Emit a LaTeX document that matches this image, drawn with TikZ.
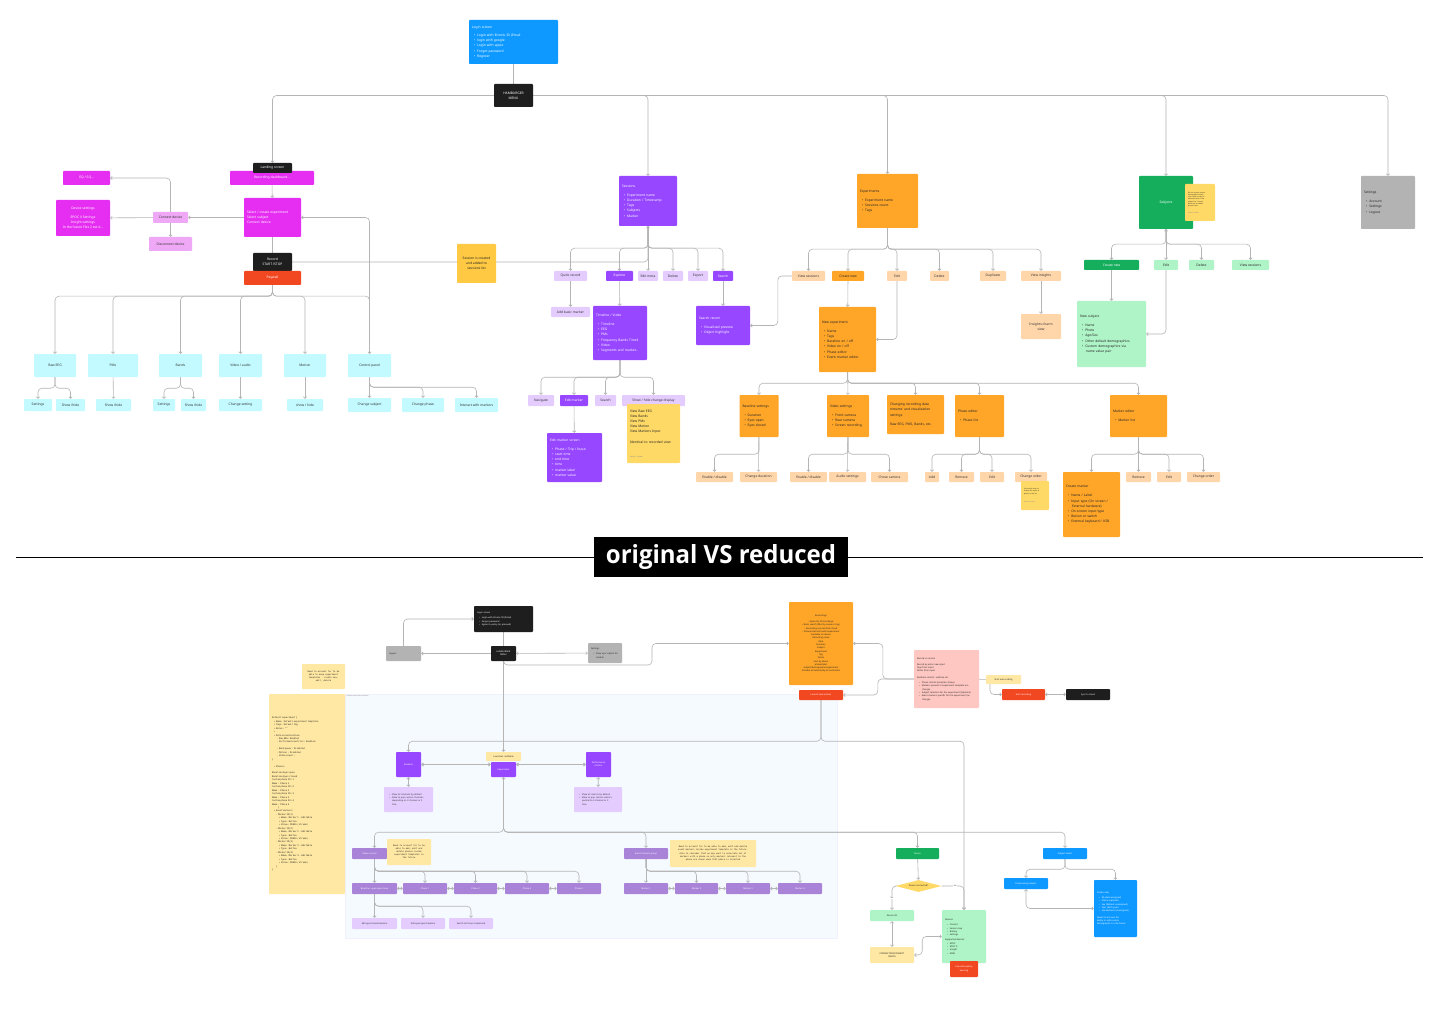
\documentclass[tikz,border=0pt]{standalone}
\usepackage{fontspec}
\usepackage{graphicx}
\setmainfont{Noto Sans}
\setmonofont{DejaVu Sans Mono}
\newfontfamily\titlefont{Open Sans}
\usetikzlibrary{arrows.meta,shapes.geometric}
\pgfdeclarelayer{bg}
\pgfdeclarelayer{wires}
\pgfsetlayers{bg,wires,main}

\definecolor{hamblack}{HTML}{1E1E1E}
\definecolor{loginblue}{HTML}{0D99FF}
\definecolor{dashmag}{HTML}{E62EF2}
\definecolor{dashmaglt}{HTML}{EEA8F5}
\definecolor{payred}{HTML}{F24822}
\definecolor{cyanlt}{HTML}{C2FAFF}
\definecolor{sesspurp}{HTML}{9747FF}
\definecolor{sesspurplt}{HTML}{E4CCFF}
\definecolor{exporange}{HTML}{FFA629}
\definecolor{exporangelt}{HTML}{FFD5AA}
\definecolor{sessyellow}{HTML}{FFC943}
\definecolor{stickyyellow}{HTML}{FFD966}
\definecolor{subjgreen}{HTML}{14AE5C}
\definecolor{subjgreenlt}{HTML}{AFF4C6}
\definecolor{setgray}{HTML}{B3B3B3}
\definecolor{notepale}{HTML}{FFE8A3}
\definecolor{midpurple}{HTML}{A883D8}
\definecolor{bgblue}{HTML}{F5FAFF}
\definecolor{recpink}{HTML}{FFC7C2}
\definecolor{linkgray}{HTML}{B5B5B5}

\tikzset{
  >={Straight Barb[length=1.6pt,width=3.2pt]},
  link/.style={draw=linkgray, line width=0.6pt, rounded corners=4pt},
  box/.style={rounded corners=0.8pt, inner sep=0.5pt, align=center, font=\fontsize{3.3}{5.2}\selectfont},
  lbox/.style={box, align=left, inner xsep=3pt, inner ysep=1pt, text width=#1pt},
  wh/.style 2 args={minimum width=#1pt, minimum height=#2pt},
  ht/.style={minimum height=#1pt},
  fine/.style={font=\fontsize{2.2}{3.3}\selectfont},
  minute/.style={font=\fontsize{1.6}{2.3}\selectfont},
  mono/.style={font=\ttfamily\fontsize{2.1}{3.1}\selectfont},
  code/.style={font=\ttfamily\fontsize{2.2}{3.45}\selectfont},
  lbl/.style={font=\fontsize{2}{2.5}\selectfont, fill=white, inner sep=0.5pt, text=black!70},
  blk/.style={fill=hamblack, text=white},
  blu/.style={fill=loginblue, text=white},
  mag/.style={fill=dashmag, text=white},
  magl/.style={fill=dashmaglt, text=black!80},
  alert/.style={fill=payred, text=white},
  cyn/.style={fill=cyanlt, text=black!80},
  prp/.style={fill=sesspurp, text=white},
  prpl/.style={fill=sesspurplt, text=black!80},
  org/.style={fill=exporange, text=black!85},
  orgl/.style={fill=exporangelt, text=black!80},
  grn/.style={fill=subjgreen, text=white},
  grnl/.style={fill=subjgreenlt, text=black!85},
  gry/.style={fill=setgray, text=black!85},
  yel/.style={fill=sessyellow, text=black!85},
  stk/.style={fill=stickyyellow, text=black!85},
  pale/.style={fill=notepale, text=black!85},
  pnk/.style={fill=recpink, text=black!85},
  mid/.style={fill=midpurple, text=white},
}

\newcommand{\bi}{\hspace*{2pt}\textbullet\hspace{2pt}}
\newcommand{\ind}[1]{\hspace*{#1pt}}

\begin{document}
\begin{tikzpicture}[x=1pt,y=-1pt]
\useasboundingbox (0,0) rectangle (1440,1024);
\begin{pgfonlayer}{bg}
  \fill[white] (0,0) rectangle (1440,1024);
  \filldraw[fill=bgblue, draw=blue!6] (345,694) rectangle (837,938);
\end{pgfonlayer}

% ---------- original ----------
\node[lbox=83, blu, ht=44] (login) at (513.5,42) {\textbf{Login screen}\\[3pt]\bi Login with Emotiv ID (Email\\\bi login with google\\\bi Login with apple\\\bi Forgot password\\\bi Register};
\node[box, blk, wh={39}{23}] (menu) at (513.5,95.5) {HAMBURGER\\MENU};

% recording dashboard
\node[box, mag, wh={84}{14}] (recdash) at (272,178) {Recording dashboard...};
\node[box, blk, wh={39}{10}] (landing) at (272.5,168) {Landing screen};
\node[lbox=51, mag, ht=39] (select) at (272.5,217.5) {\textbf{Select / create experiment}\\Select subject\\Connect device};
\node[box, magl, wh={35}{11}] (connect) at (170.5,217.5) {Connect device};
\node[box, mag, wh={54}{36}] (devset) at (83,218) {\textbf{Device settings}\\[3pt]EPOC X Settings\\Insight settings\\In the future Flex 2 set-ti...};
\node[box, mag, wh={47}{14}] (eqsq) at (86.5,178) {EQ / SQ...};
\node[box, magl, wh={43}{14}] (disconnect) at (170.5,244) {Disconnect device};
\node[box, blk, wh={39}{18}] (record) at (272.5,262) {Record\\START /STOP};
\node[box, alert, wh={57}{14}] (paywall) at (272.5,278) {Paywall};

\node[box, cyn, wh={42}{23}] (raweeg) at (55,365.5) {Raw EEG};
\node[box, cyn, wh={50}{23}] (pms) at (113,365.5) {PMs};
\node[box, cyn, wh={43}{23}] (bands) at (180.5,365.5) {Bands};
\node[box, cyn, wh={43}{23}] (videoaudio) at (240.5,365.5) {Video / audio};
\node[box, cyn, wh={42}{23}] (motion) at (305,365.5) {Motion};
\node[box, cyn, wh={43}{23}] (controlpanel) at (369.5,365.5) {Control panel};
\node[box, cyn, wh={28}{12}] (eegset) at (38,405) {Settings};
\node[box, cyn, wh={29}{12}] (eegshow) at (70.5,405) {Show /hide};
\node[box, cyn, wh={35}{12}] (pmsshow) at (113.5,405) {Show /hide};
\node[box, cyn, wh={22}{12}] (bandset) at (164,405) {Settings};
\node[box, cyn, wh={25}{12}] (bandshow) at (193.5,405) {Show /hide};
\node[box, cyn, wh={43}{12}] (vidchange) at (240.5,405) {Change setting};
\node[box, cyn, wh={36}{12}] (motionshow) at (305,405) {show / hide};
\node[box, cyn, wh={43}{14}] (chsubject) at (369.5,405) {Change subject};
\node[box, cyn, wh={42}{14}] (chphase) at (423,405) {Change phase};
\node[box, cyn, wh={43}{14}] (intmarkers) at (476.5,405) {Interact with markers};

% sessions
\node[lbox=52, prp, ht=50] (sessions) at (648,201) {\textbf{Sessions}\\[4pt]\bi Experiment name\\\bi Duration / Timestamp\\\bi Tags\\\bi Subjects\\\bi Marker};
\node[box, prpl, wh={33}{10}] (quick) at (570.5,276) {Quick record};
\node[box, prp, wh={27}{10}] (explore) at (619.5,276) {Explore};
\node[box, prpl, wh={20}{10}] (editmeta) at (648,276) {Edit meta};
\node[box, prpl, wh={20}{10}] (sessdelete) at (673,276) {Delete};
\node[box, prpl, wh={20}{10}] (export) at (698,276) {Export};
\node[box, prp, wh={20}{10}] (search) at (723,276) {Search};
\node[box, prpl, wh={39}{10}] (addmarker) at (570.5,312) {Add basic marker};
\node[lbox=48, prp, ht=54] (timeline) at (620,333) {\textbf{Timeline / Video}\\[4pt]\bi Timeline\\\bi EEG\\\bi PMs\\\bi Frequency Bands Timeli\\\bi Video\\\bi Segments and marker...};
\node[box, prpl, wh={26}{11}] (navigate) at (541,400.5) {Navigate};
\node[box, prp, wh={28}{11}] (editmarker) at (574,400.5) {Edit marker};
\node[box, prpl, wh={21}{11}] (tlsearch) at (605.5,400.5) {Search};
\node[box, prpl, wh={63}{11}] (showhide) at (653.5,400.5) {Show / hide change display};
\node[lbox=47, stk, ht=59] (viewnote) at (653.5,433.5) {View Raw EEG\\View Bands\\View PMs\\View Motion\\View Markers Input\\[5pt]Identical to recorded view\\[9pt]{\color{black!45}\fontsize{1.8}{2}\selectfont Nelson Labadi}};
\node[lbox=49, prp, ht=49] (editscreen) at (574.5,457.5) {\textbf{Edit marker screen}\\[4pt]\bi Phase / Trip / Input\\\bi start time\\\bi end time\\\bi time\\\bi marker label\\\bi marker value};
\node[lbox=48, prp, ht=39] (searchreturn) at (723,325.5) {\textbf{Search return}\\[4pt]\bi Visualised preview\\\bi Object highlight};
\node[box, yel, wh={39}{39}] (created) at (476.5,263.5) {Session is created\\and added to\\sessions list};

% experiments
\node[lbox=55, org, ht=54] (experiments) at (887.5,201) {\textbf{Experiments}\\[4pt]\bi Experiment name\\\bi Sessions count\\\bi Tags};
\node[box, orgl, wh={33}{10}] (viewsessions) at (808.5,276) {View sessions};
\node[box, org, wh={32}{10}] (createnew) at (848,276) {Create new};
\node[box, orgl, wh={20}{10}] (expedit) at (897,276) {Edit};
\node[box, orgl, wh={19}{10}] (expdelete) at (939.5,276) {Delete};
\node[box, orgl, wh={26}{10}] (duplicate) at (993,276) {Duplicate};
\node[box, orgl, wh={40}{10}] (insights) at (1041,276) {View insights};
\node[lbox=51, org, ht=65] (newexp) at (847.5,339.5) {\textbf{New experiment}\\[4pt]\bi Name\\\bi Tags\\\bi Baseline on / off\\\bi Video on / off\\\bi Phase editor\\\bi Event marker editor};
\node[box, orgl, wh={40}{25}] (inscharm) at (1041,326.5) {Insights charm\\view};
\node[lbox=33, org, ht=42] (baseline) at (759,416) {\textbf{Baseline settings}\\[4pt]\bi Duration\\\bi Eyes open\\\bi Eyes closed};
\node[lbox=36, org, ht=42] (videoset) at (848,416) {\textbf{Video settings}\\[4pt]\bi Front camera\\\bi Rear camera\\\bi Screen recording};
\node[lbox=51, org, ht=39] (streams) at (915.5,414.5) {{\bfseries Changing recording data\\streams' and visualisation\\settings}\\[4pt]Raw EEG, PMS, Bands, etc.};
\node[lbox=43, org, ht=42] (phaseeditor) at (979.5,416) {\textbf{Phase editor}\\[4pt]\bi Phase list};
\node[lbox=51, org, ht=42] (markereditor) at (1138.5,416) {\textbf{Marker editor}\\[4pt]\bi Marker list};
\node[box, orgl, wh={37}{10}] (blenable) at (714.5,477) {Enable / disable};
\node[box, orgl, wh={37}{10}] (blduration) at (758.5,477) {Change duration};
\node[box, orgl, wh={37}{10}] (videnable) at (808.5,477) {Enable / disable};
\node[box, orgl, wh={37}{10}] (vidaudio) at (847.5,477) {Audio settings};
\node[box, orgl, wh={37}{10}] (vidcamera) at (889.5,477) {Chose camera};
\node[box, orgl, wh={14}{10}] (phadd) at (932,477) {\textbf{Add}};
\node[box, orgl, wh={25}{10}] (phremove) at (961.5,477) {\textbf{Remove}};
\node[box, orgl, wh={24}{10}] (phedit) at (992,477) {\textbf{Edit}};
\node[box, orgl, wh={32}{10}] (phorder) at (1031,477) {\textbf{Change order}};
\node[lbox=22, stk, ht=29, minute] (ordernote) at (1035,495.5) {Use drag \& drop to\\change the order of\\phases in the list\\[6pt]{\color{black!45}Nelson Labadi}};
\node[lbox=51, org, ht=65] (createmarker) at (1091.5,504.5) {\textbf{Create marker}\\[4pt]\bi Name / Label\\\bi Input type (On screen /\\\ind{6}External hardware)\\\bi On screen input type\\\bi Button or switch\\\bi External keyboard / USB};
\node[box, orgl, wh={25}{10}] (mkremove) at (1138.5,477) {\textbf{Remove}};
\node[box, orgl, wh={24}{10}] (mkedit) at (1169,477) {\textbf{Edit}};
\node[box, orgl, wh={33}{10}] (mkorder) at (1203.5,477) {\textbf{Change order}};

% subjects and settings
\node[box, grn, wh={54}{53}] (subjects) at (1166,202.5) {Subjects};
\node[lbox=24, stk, ht=37, minute] (subjnote) at (1200,202.5) {Do not require subject\\demographics every\\time. Allow to skip or\\add them later in the\\subject list. Custom\\fields can be added\\by each user.\\[4pt]{\color{black!45}Nelson Labadi}};
\node[box, grn, wh={55}{10}] (subjcreate) at (1111.5,265) {Create new};
\node[box, grnl, wh={24}{10}] (subjedit) at (1166,265) {\textbf{Edit}};
\node[box, grnl, wh={25}{10}] (subjdelete) at (1201.5,265) {\textbf{Delete}};
\node[box, grnl, wh={37}{10}] (subjsessions) at (1250.5,265) {\textbf{View sessions}};
\node[lbox=63, grnl, ht=66] (newsubject) at (1111.5,334) {\textbf{New subject}\\[4pt]\bi Name\\\bi Photo\\\bi Age/Sex\\\bi Other default demographics\\\bi Custom demographics via\\\ind{6}name value pair};
\node[lbox=48, gry, ht=53] (settings) at (1388,202.5) {\textbf{Settings}\\[4pt]\bi Account\\\bi Settings\\\bi Logout};

% divider
\draw[black, line width=1pt] (16,557) -- (1423,557);
\node[fill=black, text=white, minimum width=254pt, minimum height=40pt, inner sep=0pt] (divider) at (721,557) {\scalebox{0.96}[1]{\titlefont\bfseries\fontsize{25}{28}\selectfont original VS reduced}};

% ---------- reduced ----------
\node[lbox=53, blk, ht=26, fine] (blogin) at (503.5,619) {\textbf{Login screen}\\[2pt]\bi Login with Emotiv ID (Email)\\\bi Forgot password\\\bi Agree to policy (to proceed)};
\node[box, blk, wh={25}{15}, fine] (bmenu) at (503.5,653.5) {HAMBURGER\\MENU};
\node[lbox=29, gry, ht=15, fine] (logout) at (403.5,653.5) {Logout};
\node[lbox=28, gry, ht=20, fine] (bsettings) at (605,653) {\textbf{Settings}\\[2pt]\bi Show sync option for\\\ind{5}module};
\node[box, org, wh={64}{83}, fine] (recordings) at (821,643.5) {Recordings\\[3pt]\textbullet\ Open list of recordings\\\textbullet\ Basic search (filter by name or tag)\\\textbullet\ Recordings synced from cloud\\\textbullet\ Show all sessions with experiment\\Available on device\\Recording name\\Date\\Duration\\Subject\\Experiment\\Tag\\Notes\\Sort by above\\phased plot\\subject/demographic/experiment\\Includes all selected by all controllers};
\node[box, alert, wh={44}{10}, fine] (newsession) at (821,695) {Launch new session};
\node[lbox=59, pnk, ht=58, fine] (recnormal) at (946.5,679) {\textbf{Record in normal}\\[3pt]Record by enter new input\\Tags from input\\Notes from input\\[3pt]Realtime control: realtime etc.\\[2pt]\bi Phase control (template shows)\\\bi Markers present in experiment template (no\\\ind{5}change)\\\bi Subject selection for the experiment (Optional)\\\bi Event markers specific for the experiment (no\\\ind{5}change)};
\node[box, pale, wh={35}{9}, fine] (autocode) at (1003.5,679.5) {Start auto-coding};
\node[box, alert, wh={43}{11}, fine] (startrec) at (1023.5,694.5) {Start recording};
\node[box, blk, wh={44}{11}, fine] (cloudsync) at (1088,694.5) {Sync to cloud};

\node[box, pale, wh={43}{25}, mono] (templatenote) at (323.5,676.5) {Need to account for to be\\able to keep experiment\\templates - create new,\\edit, delete};
\node[lbox=70, pale, ht=200, code] (defaults) at (307,794) {Default experiment \{\\
\ind{2}\textbullet\ Name: Default experiment template\\
\ind{2}\textbullet\ Tags: Default tag\\
\ind{2}\textbullet\ Notes: ""\\
\ind{2}\textbullet\\
\ind{2}\textbullet\ Data visualisation:\\
\ind{5}- Raw EEG: Enabled\\
\ind{5}- Performance metrics: Enabled\\[3.45pt]
\ind{5}- Band power: Disabled\\
\ind{5}- Motion : Disabled\\
\ind{5}- Video input :\\
\}\\[3.45pt]
\ind{2}\textbullet\ Phases:\\[3.45pt]
Baseline Eyes open\\
Baseline Eyes closed\\
Custom phase ID: 1\\
Name : Phase 1\\
Custom phase ID: 2\\
Name : Phase 2\\
Custom phase ID: 3\\
Name : Phase 3\\
Custom phase ID: 4\\
Name : Phase 4\\
\ind{6}\}\\
\ind{2}\textbullet\ Event markers\\
\ind{4}- Marker ID(1)\\
\ind{7}\textbullet\ Name: Marker 1 - Editable\\
\ind{7}\textbullet\ Type: Button\\
\ind{7}\textbullet\ Value: PRESS (stream)\\
\ind{4}- Marker ID(2)\\
\ind{7}\textbullet\ Name: Marker 2 - Editable\\
\ind{7}\textbullet\ Type: Button\\
\ind{7}\textbullet\ Value: PRESS (stream)\\
\ind{4}- Marker ID(3)\\
\ind{7}\textbullet\ Name: Marker 3 - Editable\\
\ind{7}\textbullet\ Type: Button\\
\ind{4}- Marker ID(4)\\
\ind{7}\textbullet\ Name: Marker 4 - Editable\\
\ind{7}\textbullet\ Type: Button\\
\ind{7}\textbullet\ Value: PRESS (stream)\\
\ind{4}\}\\
\}};
\node[anchor=north west, inner sep=0.5pt, font=\fontsize{1.6}{2}\selectfont, text=black!50] (regionlabel) at (346,695) {Default experiment template};

\node[box, prp, wh={25}{25}, fine] (blbase) at (408.5,764.5) {Baseline};
\node[box, pale, wh={35}{9}, fine] (launch) at (503.5,756.5) {Launches / editable};
\node[box, prp, wh={25}{15}, fine] (bexp) at (503.5,769.5) {Experiment};
\node[box, prp, wh={25}{25}, fine] (blpm) at (598.5,764.5) {Performance\\metrics};
\node[lbox=43, prpl, ht=25, fine] (basenote) at (408.5,799.5) {\bi Show all channels by default\\\bi Allow to pop custom channels\\\ind{5}depending on X channel or X\\\ind{5}time};
\node[lbox=42, prpl, ht=25, fine] (pmnote) at (598,799.5) {\bi Show all metrics by default\\\bi Allow to pop custom metrics\\\ind{5}parallel to X-channel or X\\\ind{5}time};
\node[box, mid, wh={35}{11}, fine] (phasectrl) at (369.5,853.5) {Phase control};
\node[box, pale, wh={44}{26}, mono] (phasenote) at (409,852) {Need to account for to be\\able to add, edit and\\delete phases inside\\experiment templates in\\the future};
\node[box, mid, wh={44}{11}, fine] (markergroup) at (646,853.5) {Event markers group};
\node[box, pale, wh={86}{27}, mono] (markernote) at (713,853.5) {Need to account for to be able to add, edit and delete\\event markers inside experiment template in the future.\\Also to consider that we may want to associate set of\\markers with a phase so only markers relevant to the\\phase are shown when that phase is selected};
\node[box, mid, wh={45}{11}, fine] (phase0) at (374.5,888.5) {Baseline - eyes open/close};
\node[box, mid, wh={44}{11}, fine] (phase1) at (425,888.5) {Phase 1};
\node[box, mid, wh={43}{11}, fine] (phase2) at (475.5,888.5) {Phase 2};
\node[box, mid, wh={44}{11}, fine] (phase3) at (527,888.5) {Phase 3};
\node[box, mid, wh={44}{11}, fine] (phasen) at (579,888.5) {Phase n};
\node[box, mid, wh={44}{11}, fine] (marker1) at (646,888.5) {Marker 1};
\node[box, mid, wh={43}{11}, fine] (marker2) at (696.5,888.5) {Marker 2};
\node[box, mid, wh={44}{11}, fine] (marker3) at (748,888.5) {Marker 3};
\node[box, mid, wh={44}{11}, fine] (marker4) at (800,888.5) {Marker 4};
\node[box, prpl, wh={45}{11}, fine] (eyesclosed) at (374.5,923.5) {Edit eyes closed baseline};
\node[box, prpl, wh={44}{11}, fine] (eyesopen) at (423,923.5) {Edit eyes open baseline};
\node[box, prpl, wh={44}{11}, fine] (advanced) at (471,923.5) {Switch to frame 4 advanced};

\node[box, grn, wh={43}{11}, fine] (device) at (917.5,853.5) {Device};
\node[diamond, aspect=4, fill=stickyyellow, text=black!85, inner sep=0pt, minimum width=46pt, minimum height=12pt, font=\fontsize{2.2}{3}\selectfont] (connected) at (918.5,886) {Device connected?};
\node[box, grnl, wh={44}{11}, fine] (devicelist) at (892,915.5) {Device list};
\node[box, pale, wh={44}{16}, fine] (connect2) at (892,955) {CONNECT/DISCONNECT\\DEVICE};
\node[lbox=38, grnl, ht=53, fine] (devices) at (964,936.5) {\textbf{Devices}\\[2pt]\bi Contact\\\bi Sensor map\\\bi Battery\\\bi Settings\\[2pt]Supported devices :\\\bi EPOC\\\bi EPOC X\\\bi Insight\\\bi MN8};
\node[box, alert, wh={28}{16}, fine] (lowquality) at (964,969) {Low data quality\\warning};
\node[box, blu, wh={44}{11}, fine] (subjselect) at (1065,853.5) {Subject select};
\node[box, blu, wh={44}{11}, fine] (findsubject) at (1026,883.5) {Find existing subject};
\node[lbox=37, blu, ht=57, fine] (createsubject) at (1115.5,908.5) {\textbf{Create new}\\[2pt]\bi ID (Auto assigned)\\\bi Name (optional)\\\bi Sex (Default unassigned)\\\bi Year (birth year)\\\bi Handedness (unassigned)\\[3pt]Needs to account for\\ability to add custom\\demographics in the future};

% ---------- connectors ----------
\begin{pgfonlayer}{wires}
\draw[link] (login) -- (menu);
\draw[link,->] (menu.west) -| (landing.north);
\draw[link,->] (menu.east) -| (sessions.north);
\draw[link,->] (menu.east) -| (experiments.north);
\draw[link,->] (menu.east) -| (subjects.north);
\draw[link,->] (menu.east) -| (settings.north);

\draw[link,->] (recdash) -- (select);
\draw[link,->] (select) -- (connect);
\draw[link,->] (connect) -- (devset);
\draw[link,->] (connect.north) |- (eqsq.east);
\draw[link,->] (connect) -- (disconnect);
\draw[link] (select) -- (record);
\draw[link,->] (record.east) -| (sessions.south);
\draw[link,->] (controlpanel.north) |- (select.east);
\draw[link,->] (paywall.south) -- ++(0,11) -| (raweeg.north);
\draw[link,->] (paywall.south) -- ++(0,11) -| (pms.north);
\draw[link,->] (paywall.south) -- ++(0,11) -| (bands.north);
\draw[link,->] (paywall.south) -- ++(0,11) -| (videoaudio.north);
\draw[link,->] (paywall.south) -- ++(0,11) -| (motion.north);
\draw[link,->] (paywall.south) -- ++(0,11) -| (controlpanel.north);
\draw[link,->] (raweeg.south) -- ++(0,11) -| (eegset.north);
\draw[link,->] (raweeg.south) -- ++(0,11) -| (eegshow.north);
\draw[link,->] (pms) -- (pmsshow);
\draw[link,->] (bands.south) -- ++(0,11) -| (bandset.north);
\draw[link,->] (bands.south) -- ++(0,11) -| (bandshow.north);
\draw[link,->] (videoaudio) -- (vidchange);
\draw[link,->] (motion) -- (motionshow);
\draw[link,->] (controlpanel) -- (chsubject);
\draw[link,->] (controlpanel.south) -- ++(0,10) -| (chphase.north);
\draw[link,->] (controlpanel.south) -- ++(0,10) -| (intmarkers.north);

\draw[link,->] (sessions.south) -- ++(0,22) -| (quick.north);
\draw[link,->] (sessions.south) -- ++(0,22) -| (explore.north);
\draw[link,->] (sessions) -- (editmeta);
\draw[link,->] (sessions.south) -- ++(0,22) -| (sessdelete.north);
\draw[link,->] (sessions.south) -- ++(0,22) -| (export.north);
\draw[link,->] (sessions.south) -- ++(0,22) -| (search.north);
\draw[link,->] (quick) -- (addmarker);
\draw[link,->] (explore) -- (timeline);
\draw[link,->] (timeline.south) -- ++(0,17) -| (navigate.north);
\draw[link,->] (timeline.south) -- ++(0,17) -| (editmarker.north);
\draw[link,->] (timeline.south) -- ++(0,17) -| (tlsearch.north);
\draw[link,->] (timeline.south) -- ++(0,17) -| (showhide.north);
\draw[link,->] (editmarker) -- (editscreen);
\draw[link,->] (search) -- (searchreturn);

\draw[link,->] (experiments.south) -- ++(0,21) -| (viewsessions.north);
\draw[link,->] (experiments.south) -- ++(0,21) -| (createnew.north);
\draw[link,->] (experiments.south) -- ++(0,21) -| (expedit.north);
\draw[link,->] (experiments.south) -- ++(0,21) -| (expdelete.north);
\draw[link,->] (experiments.south) -- ++(0,21) -| (duplicate.north);
\draw[link,->] (experiments.south) -- ++(0,21) -| (insights.north);
\draw[link,->] (viewsessions.west) -- ++(-14,0) |- (searchreturn.east);
\draw[link,->] (createnew) -- (newexp);
\draw[link,->] (expedit.south) |- (newexp.east);
\draw[link,->] (insights) -- (inscharm);
\draw[link,->] (newexp.south) -- ++(0,11) -| (baseline.north);
\draw[link,->] (newexp) -- (videoset);
\draw[link,->] (newexp.south) -- ++(0,11) -| (streams.north);
\draw[link,->] (newexp.south) -- ++(0,11) -| (phaseeditor.north);
\draw[link,->] (newexp.south) -- ++(0,11) -| (markereditor.north);
\draw[link,->] (baseline.south) -- ++(0,17) -| (blenable.north);
\draw[link,->] (baseline) -- (blduration);
\draw[link,->] (videoset.south) -- ++(0,17) -| (videnable.north);
\draw[link,->] (videoset) -- (vidaudio);
\draw[link,->] (videoset.south) -- ++(0,17) -| (vidcamera.north);
\draw[link,->] (phaseeditor.south) -- ++(0,17) -| (phadd.north);
\draw[link,->] (phaseeditor.south) -- ++(0,17) -| (phremove.north);
\draw[link,->] (phaseeditor.south) -- ++(0,17) -| (phedit.north);
\draw[link,->] (phaseeditor.south) -- ++(0,17) -| (phorder.north);
\draw[link,->] (markereditor.south) -- ++(0,17) -| (createmarker.north);
\draw[link,->] (markereditor) -- (mkremove);
\draw[link,->] (markereditor.south) -- ++(0,17) -| (mkedit.north);
\draw[link,->] (markereditor.south) -- ++(0,17) -| (mkorder.north);

\draw[link,->] (subjects.south) -- ++(0,15) -| (subjcreate.north);
\draw[link,<->] (subjects) -- (subjedit);
\draw[link,->] (subjects.south) -- ++(0,15) -| (subjdelete.north);
\draw[link,->] (subjects.south) -- ++(0,15) -| (subjsessions.north);
\draw[link,->] (subjcreate) -- (newsubject);
\draw[link,->] (subjedit.south) |- (newsubject.east);

% reduced
\draw[link] (blogin) -- (bmenu);
\draw[link,->] (bmenu) -- (logout);
\draw[link,->] (logout.north) |- (blogin.west);
\draw[link,<->] (bmenu) -- (bsettings);
\draw[link,->] (bmenu) -- (launch);
\draw[link,<->] (bmenu.south) |- (652,665) |- (recordings.west);
\draw[link,->] (recnormal.west) -- ++(-31,0) |- (recordings.east);
\draw[link,->] (recnormal.west) -- ++(-36,0) |- (newsession.east);
\draw[link] (recnormal) -- (autocode);
\draw[link,->] ([xshift=-13.5pt]autocode.south) |- (startrec.west);
\draw[link,<->] (startrec) -- (cloudsync);

\draw[link,->] (newsession.south) -- ++(0,41) -| (blbase.north);
\draw[link,->] (newsession.south) -- ++(0,41) -| (devices.north);
\draw[link,<->, line width=1pt] (blbase.east) -- (blbase.east -| bexp.west);
\draw[link,<->, line width=1pt] (bexp.east |- blpm.west) -- (blpm.west);
\draw[link,<->] (blbase) -- (basenote);
\draw[link,<->] (blpm) -- (pmnote);
\draw[link,<->] (bexp.south) -- ++(0,55) -| (phase0.north |- phasectrl.north);
\draw[link,->] (bexp.south) -- ++(0,55) -| (markergroup.north);
\draw[link,->] (bexp.south) -- ++(0,55) -| (device.north);
\draw[link,->] (bexp.south) -- ++(0,55) -| (subjselect.north);

\draw[link,->] (phase0.north |- phasectrl.south) -- (phase0);
\draw[link,->] (phase0.north |- phasectrl.south) -- ++(0,12) -| (phase1.north);
\draw[link,->] (phase0.north |- phasectrl.south) -- ++(0,12) -| (phase2.north);
\draw[link,->] (phase0.north |- phasectrl.south) -- ++(0,12) -| (phase3.north);
\draw[link,->] (phase0.north |- phasectrl.south) -- ++(0,12) -| (phasen.north);
\draw[link,<->] (phase0) -- (phase1);
\draw[link,<->] (phase1) -- (phase2);
\draw[link,<->] (phase2) -- (phase3);
\draw[link,<->] (phase3) -- (phasen);
\draw[link,->] (phase0) -- (eyesclosed);
\draw[link,->] (phase0.south) -- ++(0,12) -| (eyesopen.north);
\draw[link,->] (phase0.south) -- ++(0,12) -| (advanced.north);

\draw[link,->] (markergroup) -- (marker1);
\draw[link,->] (markergroup.south) -- ++(0,12) -| (marker2.north);
\draw[link,->] (markergroup.south) -- ++(0,12) -| (marker3.north);
\draw[link,->] (markergroup.south) -- ++(0,12) -| (marker4.north);
\draw[link,<->] (marker1) -- (marker2);
\draw[link,<->] (marker2) -- (marker3);
\draw[link,<->] (marker3) -- (marker4);

\draw[link,->] (device) -- (connected);
\draw[link,->] (connected.west) -| (devicelist.north) node[pos=0.75, lbl] {No};
\draw[link,->] (connected.east) -| (devices.north) node[pos=0.3, lbl] {Yes};
\draw[link,<->] (devicelist) -- (connect2);
\draw[link,<->] (connect2.east) -- ++(8,0) |- (devices.west);
\draw[link,->] (subjselect.south) -- ++(0,10) -| (findsubject.north);
\draw[link,->] (subjselect.south) -- ++(0,10) -| (createsubject.north);
\draw[link,<->] (findsubject.south) |- (createsubject.west);
\end{pgfonlayer}
\end{tikzpicture}
\end{document}
